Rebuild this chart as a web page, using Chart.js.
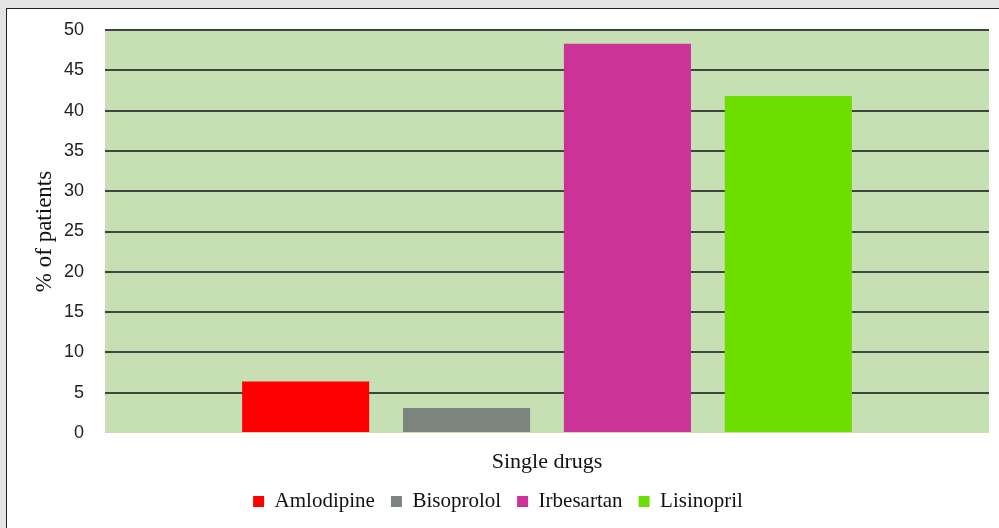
<!DOCTYPE html>
<html>
<head>
<meta charset="utf-8">
<script src="https://cdn.jsdelivr.net/npm/chart.js@4/dist/chart.umd.min.js"></script>
<style>
  html, body { margin: 0; padding: 0; background: #e4e4e4; }
  #frame {
    position: absolute; left: 6px; top: 8px;
    width: 993px; height: 520px;
    background: #fff;
    border-left: 1px solid #222; border-top: 1px solid #222;
  }
  #wrap { position: absolute; left: 0; top: 0; width: 993px; height: 520px; }
</style>
</head>
<body>
<div id="frame"><div id="wrap"><canvas id="barchart"></canvas></div></div>
<script>
const categories = ['Single drugs'];
const drugs = ['Amlodipine', 'Bisoprolol', 'Irbesartan', 'Lisinopril'];
const percents = [6.4, 3.1, 48.3, 41.8];
const colors = ['#ff0000', '#7b847f', '#cc3399', '#6ddf00'];
const yTicks = [0, 5, 10, 15, 20, 25, 30, 35, 40, 45, 50];

const serif = "'Liberation Serif', 'Times New Roman', serif";

// green plot background
const plotBg = {
  id: 'plotBg',
  beforeDraw(chart) {
    const a = chart.chartArea;
    const ctx = chart.ctx;
    ctx.save();
    ctx.fillStyle = '#c6e0b4';
    ctx.fillRect(a.left, a.top, a.right - a.left, a.bottom - a.top);
    ctx.restore();
  }
};

const barchart = document.getElementById('barchart');

new Chart(barchart, {
  type: 'bar',
  data: {
    labels: categories,
    datasets: drugs.map((d, i) => ({
      label: d,
      data: [percents[i]],
      backgroundColor: colors[i],
      borderWidth: 0
    }))
  },
  options: {
    responsive: true,
    maintainAspectRatio: false,
    animation: false,
    layout: { padding: { left: 0, top: 21, right: 11, bottom: 7 } },
    datasets: { bar: { categoryPercentage: 0.728, barPercentage: 0.79 } },
    plugins: {
      tooltip: { enabled: false },
      legend: {
        position: 'bottom',
        labels: {
          boxWidth: 11, boxHeight: 11, padding: 16,
          color: '#111',
          font: { family: serif, size: 21 }
        }
      }
    },
    scales: {
      x: {
        grid: { display: false, drawTicks: false },
        border: { display: false },
        ticks: { padding: 16, color: '#111', font: { family: serif, size: 22 } },
        afterFit(s) { s.height = 42; }
      },
      y: {
        min: 0, max: 50,
        afterBuildTicks(s) { s.ticks = yTicks.map(v => ({ value: v })); },
        grid: {
          drawTicks: false,
          lineWidth: 2,
          color: c => (c.tick && c.tick.value === 0) ? 'rgba(0,0,0,0)' : '#3f443f'
        },
        border: { display: false },
        ticks: {
          padding: 21, color: '#222',
          font: { family: "'Liberation Sans', Arial, sans-serif", size: 18 }
        },
        title: {
          display: true, text: '% of patients', color: '#111',
          font: { family: serif, size: 23 }, padding: { top: 24, bottom: 0 }
        },
        afterFit(s) { s.width = 98; s.paddingTop = 0; s.paddingBottom = 0; }
      }
    }
  },
  plugins: [plotBg]
});
</script>
</body>
</html>
